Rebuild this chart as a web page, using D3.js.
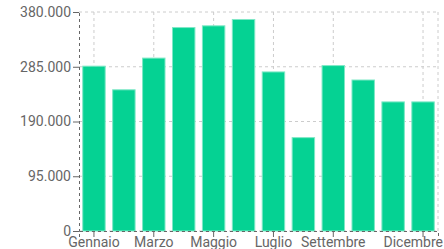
<!DOCTYPE html>
<html>
<head>
<meta charset="UTF-8">
<script src="https://d3js.org/d3.v7.min.js"></script>
<style>
  body { margin: 0; background: #fff; }
  text { font-family: Roboto, sans-serif; }
</style>
</head>
<body>
<svg width="444" height="249"></svg>
<script>
// monthly values
const months = ['Gennaio', 'Febbraio', 'Marzo', 'Aprile', 'Maggio', 'Giugno',
  'Luglio', 'Agosto', 'Settembre', 'Ottobre', 'Novembre', 'Dicembre'];
const values = [286000, 245000, 300000, 353000, 356000, 367000,
  276000, 162000, 287000, 262000, 224000, 224000];
const yTicks = [0, 95000, 190000, 285000, 380000];
const shownMonths = ['Gennaio', 'Marzo', 'Maggio', 'Luglio', 'Settembre', 'Dicembre'];

const margin = { top: 12, right: 6, bottom: 18, left: 79 };
const width = 444 - margin.left - margin.right;
const height = 249 - margin.top - margin.bottom;

const it = d3.formatLocale({ decimal: ',', thousands: '.', grouping: [3], currency: ['', '€'] });
const fmt = it.format(',d');

const svg = d3.select('svg')
  .append('g')
  .attr('transform', `translate(${margin.left},${margin.top})`);

const x = d3.scaleBand().domain(months).range([0, width]).paddingInner(0.25).paddingOuter(0.125);
const y = d3.scaleLinear().domain([0, 380000]).range([height, 0]);

// grid
const grid = svg.append('g').attr('stroke', '#ccc').attr('stroke-dasharray', '3 3');
grid.selectAll('line.h').data(yTicks).enter().append('line')
  .attr('x1', 0).attr('x2', width)
  .attr('y1', d => y(d)).attr('y2', d => y(d));
grid.selectAll('line.v').data(shownMonths).enter().append('line')
  .attr('x1', d => x(d) + x.bandwidth() / 2).attr('x2', d => x(d) + x.bandwidth() / 2)
  .attr('y1', 0).attr('y2', height);
grid.append('line').attr('x1', width).attr('x2', width).attr('y1', 0).attr('y2', height);

// bars
svg.selectAll('rect').data(values).enter().append('rect')
  .attr('x', (d, i) => x(months[i]))
  .attr('y', d => y(d))
  .attr('width', x.bandwidth())
  .attr('height', d => height - y(d))
  .attr('fill', '#05d293')
  .attr('stroke', '#7ee8c6')
  .attr('stroke-width', 1);

// axes
const yAxis = svg.append('g')
  .call(d3.axisLeft(y).tickValues(yTicks).tickFormat(fmt).tickSize(6).tickPadding(2));
const xAxis = svg.append('g')
  .attr('transform', `translate(0,${height})`)
  .call(d3.axisBottom(x).tickValues(shownMonths).tickSize(6).tickPadding(0));

[yAxis, xAxis].forEach(a => {
  a.select('.domain').attr('stroke', '#666').attr('stroke-dasharray', '3 3');
  a.selectAll('.tick line').attr('stroke', '#666');
  a.selectAll('.tick text').attr('fill', '#666').style('font-size', '14px');
});

// keep the last label inside the svg
xAxis.selectAll('.tick').each(function (d) {
  const t = d3.select(this).select('text');
  const bb = t.node().getBBox();
  const cx = margin.left + x(d) + x.bandwidth() / 2;
  const over = cx + bb.width / 2 - 443;
  if (over > 0) t.attr('dx', -over);
});
</script>
</body>
</html>
